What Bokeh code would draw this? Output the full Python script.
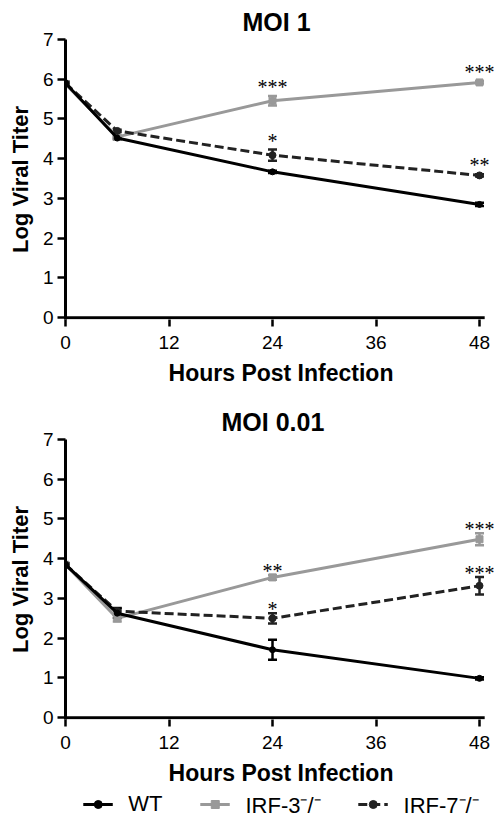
from bokeh.plotting import figure
from bokeh.models import (ColumnDataSource, Whisker, LabelSet, FixedTicker,
                          Legend, LegendItem, TeeHead, Range1d)
from bokeh.layouts import column
from bokeh.embed import file_html
from bokeh.resources import INLINE

hours = [0, 6, 24, 48]
x_ticks = [0, 12, 24, 36, 48]
y_ticks = [0, 1, 2, 3, 4, 5, 6, 7]

# MOI 1
moi1_wt = [5.90, 4.52, 3.67, 2.85]
moi1_wt_err = [0.03, 0.03, 0.03, 0.04]
moi1_irf3 = [5.88, 4.55, 5.46, 5.92]
moi1_irf3_err = [0.03, 0.04, 0.12, 0.03]
moi1_irf7 = [5.90, 4.70, 4.09, 3.58]
moi1_irf7_err = [0.03, 0.03, 0.14, 0.03]
moi1_irf3_stars = ["", "", "***", "***"]
moi1_irf7_stars = ["", "", "*", "**"]

# MOI 0.01
moi001_wt = [3.85, 2.63, 1.71, 0.99]
moi001_wt_err = [0.03, 0.12, 0.25, 0.03]
moi001_irf3 = [3.85, 2.50, 3.53, 4.49]
moi001_irf3_err = [0.03, 0.08, 0.06, 0.15]
moi001_irf7 = [3.85, 2.68, 2.50, 3.32]
moi001_irf7_err = [0.03, 0.08, 0.13, 0.22]
moi001_irf3_stars = ["", "", "**", "***"]
moi001_irf7_stars = ["", "", "*", "***"]

labels = ["WT", "IRF-3\u207b/\u207b", "IRF-7\u207b/\u207b"]

FONT = "Liberation Sans"
GRAY = "#999999"
DARK = "#222222"
STYLES = [
    dict(color="black", dash="solid", marker="circle", size=6),
    dict(color=GRAY, dash="solid", marker="square", size=7),
    dict(color=DARK, dash="9 4", marker="circle", size=7),
]


def make_panel(title, title_offset, data, stars, height, star_offset):
    p = figure(width=496, height=height, output_backend="svg", toolbar_location=None,
               x_range=Range1d(0, 49.97), y_range=Range1d(-0.045, 7),
               min_border_left=65, min_border_right=0, min_border_top=39,
               min_border_bottom=height - 39 - 280)
    p.title.text = title
    p.title.align = "left"
    p.title.offset = title_offset
    p.title.text_font = FONT
    p.title.text_font_size = "25px"
    p.title.text_font_style = "bold"
    p.title.text_color = "black"
    p.title.standoff = 8
    p.outline_line_color = None
    p.grid.visible = False
    p.background_fill_color = "white"
    p.border_fill_color = "white"

    for ax in (p.xaxis[0], p.yaxis[0]):
        ax.axis_line_width = 3
        ax.axis_line_color = "black"
        ax.major_tick_line_width = 2.5
        ax.major_tick_line_color = "black"
        ax.major_tick_in = 0
        ax.minor_tick_line_color = None
        ax.major_label_text_font = FONT
        ax.major_label_text_font_size = "19px"
        ax.major_label_text_color = "black"
        ax.axis_label_text_font = FONT
        ax.axis_label_text_font_style = "bold"
        ax.axis_label_text_color = "black"
    p.xaxis.axis_line_color = None
    p.xaxis.axis_label_text_font_size = "23px"
    p.yaxis.axis_label_text_font_size = "22px"
    p.xaxis.ticker = FixedTicker(ticks=x_ticks)
    p.yaxis.ticker = FixedTicker(ticks=y_ticks)
    p.xaxis.major_tick_out = 7
    p.yaxis.major_tick_out = 8
    p.xaxis.major_label_standoff = 9
    p.yaxis.major_label_standoff = 4
    p.xaxis.axis_label = "Hours Post Infection"
    p.yaxis.axis_label = "Log Viral Titer"
    p.xaxis.axis_label_standoff = 8
    p.yaxis.axis_label_standoff = 7

    # x-axis baseline, spanning the tick range
    p.segment(x0=[x_ticks[0]], y0=[y_ticks[0]], x1=[x_ticks[-1] + 0.6], y1=[y_ticks[0]],
              line_color="black", line_width=3)

    sources = {}
    for k in [1, 2, 0]:
        vals, errs = data[k]
        st = STYLES[k]
        src = ColumnDataSource(dict(x=hours, y=vals,
                                    lower=[v - e for v, e in zip(vals, errs)],
                                    upper=[v + e for v, e in zip(vals, errs)]))
        p.line("x", "y", source=src, line_color=st["color"], line_width=3,
               line_dash=st["dash"])
        p.scatter("x", "y", source=src, marker=st["marker"], size=st["size"],
                  fill_color=st["color"], line_color=st["color"])
        col = st["color"]
        w = Whisker(base="x", lower="lower", upper="upper", source=src,
                    line_color=col, line_width=2.5,
                    upper_head=TeeHead(size=9, line_color=col, line_width=2.5),
                    lower_head=TeeHead(size=9, line_color=col, line_width=2.5))
        p.add_layout(w)
        sources[k] = src

    for k, s in zip((1, 2), stars):
        vals, errs = data[k]
        ssrc = ColumnDataSource(dict(x=hours, y=[v + e for v, e in zip(vals, errs)], t=s))
        ls = LabelSet(x="x", y="y", text="t", source=ssrc, text_align="center",
                      text_baseline="alphabetic", y_offset=star_offset,
                      text_font=FONT, text_font_size="20px", text_color="black")
        p.add_layout(ls)
    return p, sources


p1, src1 = make_panel("MOI 1", 177,
                      [(moi1_wt, moi1_wt_err), (moi1_irf3, moi1_irf3_err), (moi1_irf7, moi1_irf7_err)],
                      [moi1_irf3_stars, moi1_irf7_stars], 400, 2)
p2, src2 = make_panel("MOI 0.01", 156,
                      [(moi001_wt, moi001_wt_err), (moi001_irf3, moi001_irf3_err), (moi001_irf7, moi001_irf7_err)],
                      [moi001_irf3_stars, moi001_irf7_stars], 391, -3)

# legend strip: same series, drawn outside its visible range so only the key shows
p3 = figure(width=496, height=25, output_backend="svg", toolbar_location=None,
            x_range=Range1d(-20, -19), y_range=Range1d(0, 7),
            x_axis_location=None, y_axis_location=None,
            min_border_left=27, min_border_right=0, min_border_top=0, min_border_bottom=0)
p3.outline_line_color = None
p3.grid.visible = False
items = []
for k in range(3):
    st = STYLES[k]
    lr = p3.line("x", "y", source=src2[k], line_color=st["color"], line_width=3,
                 line_dash=st["dash"])
    sr = p3.scatter("x", "y", source=src2[k], marker=st["marker"], size=st["size"],
                    fill_color=st["color"], line_color=st["color"])
    items.append(LegendItem(label=labels[k], renderers=[lr, sr]))
leg = Legend(items=items, orientation="horizontal", location="center",
             glyph_width=30, glyph_height=20, label_standoff=16, spacing=37,
             label_text_font=FONT, label_text_font_size="22px", label_text_color="black",
             border_line_color=None, background_fill_alpha=0,
             padding=0, margin=0)
p3.add_layout(leg)

layout = column(p1, p2, p3, spacing=0)
open("out.html", "w").write(file_html(layout, INLINE))
